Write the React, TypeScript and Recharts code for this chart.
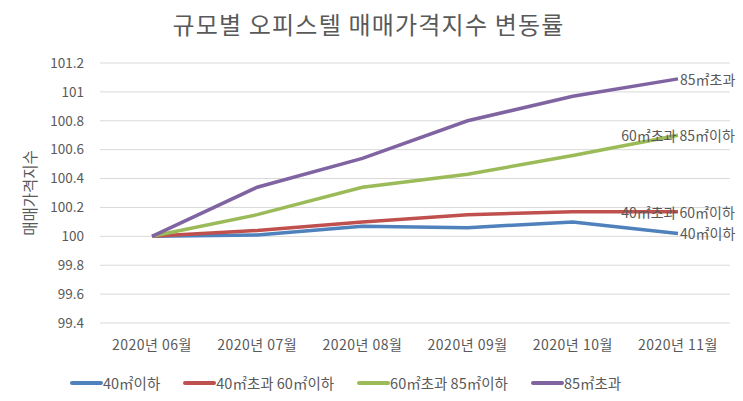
import { LineChart, Line, XAxis, YAxis, CartesianGrid, Label, LabelList } from "recharts";

const months = ["2020년 06월", "2020년 07월", "2020년 08월", "2020년 09월", "2020년 10월", "2020년 11월"];
const under40 = [100, 100.01, 100.07, 100.06, 100.1, 100.02];
const from40to60 = [100, 100.04, 100.1, 100.15, 100.17, 100.17];
const from60to85 = [100, 100.15, 100.34, 100.43, 100.56, 100.7];
const over85 = [100, 100.34, 100.54, 100.8, 100.97, 101.09];
const yTicks = [99.4, 99.6, 99.8, 100, 100.2, 100.4, 100.6, 100.8, 101, 101.2];

const FONT = '"Noto Sans CJK KR", "Noto Sans", sans-serif';
const TEXT = "#595959";

const series = [
  { key: "a", name: "40㎡이하", values: under40, color: "#4F81BD", centered: false },
  { key: "b", name: "40㎡초과 60㎡이하", values: from40to60, color: "#C0504D", centered: true },
  { key: "c", name: "60㎡초과 85㎡이하", values: from60to85, color: "#9BBB59", centered: true },
  { key: "d", name: "85㎡초과", values: over85, color: "#8064A2", centered: false },
];

const data = months.map((m, i) => {
  const row: Record<string, string | number> = { month: m };
  series.forEach((s) => (row[s.key] = s.values[i]));
  return row;
});

const endLabel = (text: string, centered: boolean) => (props: any) => {
  if (props.index !== months.length - 1) return null;
  return (
    <text
      x={centered ? props.x : props.x + 2}
      y={props.y}
      textAnchor={centered ? "middle" : "start"}
      dominantBaseline="central"
      fill={TEXT}
      fontSize={14}
      fontFamily={FONT}
    >
      {text}
    </text>
  );
};

export default function App() {
  return (
    <div style={{ position: "fixed", left: 0, top: 0, width: 743, height: 401, background: "#fff", fontFamily: FONT }}>
      <div
        style={{
          position: "absolute",
          top: 6,
          left: 0,
          width: 737,
          textAlign: "center",
          fontSize: 24,
          letterSpacing: 1.2,
          color: TEXT,
        }}
      >
        규모별 오피스텔 매매가격지수 변동률
      </div>
      <LineChart width={743} height={401} data={data} margin={{ top: 63, right: 13, bottom: 48, left: 0 }}>
        <CartesianGrid vertical={false} stroke="#d9d9d9" strokeWidth={1} />
        <XAxis
          dataKey="month"
          axisLine={false}
          tickLine={false}
          tickSize={0}
          tickMargin={17}
          height={30}
          interval={0}
          padding={{ left: 52, right: 52 }}
          tick={{ fill: TEXT, fontSize: 14, fontFamily: FONT, letterSpacing: 0.5 }}
        />
        <YAxis
          domain={[99.4, 101.2]}
          ticks={yTicks}
          interval={0}
          axisLine={false}
          tickLine={false}
          tickSize={0}
          tickMargin={16}
          width={100}
          tickFormatter={(v: number) => String(Math.round(v * 10) / 10)}
          tick={{ fill: TEXT, fontSize: 13.5, fontFamily: FONT }}
        >
          <Label
            value="매매가격지수"
            angle={-90}
            position="insideLeft"
            offset={30}
            style={{ fill: TEXT, fontSize: 15.5, fontFamily: FONT, textAnchor: "middle" }}
          />
        </YAxis>
        {series.map((s) => (
          <Line
            key={s.key}
            dataKey={s.key}
            name={s.name}
            type="linear"
            stroke={s.color}
            strokeWidth={3.5}
            dot={false}
            isAnimationActive={false}
          >
            <LabelList dataKey={s.key} content={endLabel(s.name, s.centered)} />
          </Line>
        ))}
      </LineChart>
      <div
        style={{
          position: "absolute",
          top: 372,
          left: 70,
          display: "flex",
          gap: 23,
          fontSize: 14.5,
          color: TEXT,
          alignItems: "center",
          whiteSpace: "nowrap",
        }}
      >
        {series.map((s) => (
          <div key={s.key} style={{ display: "flex", alignItems: "center" }}>
            <span style={{ display: "inline-block", width: 33, height: 4, borderRadius: 2, background: s.color }} />
            <span>{s.name}</span>
          </div>
        ))}
      </div>
    </div>
  );
}
